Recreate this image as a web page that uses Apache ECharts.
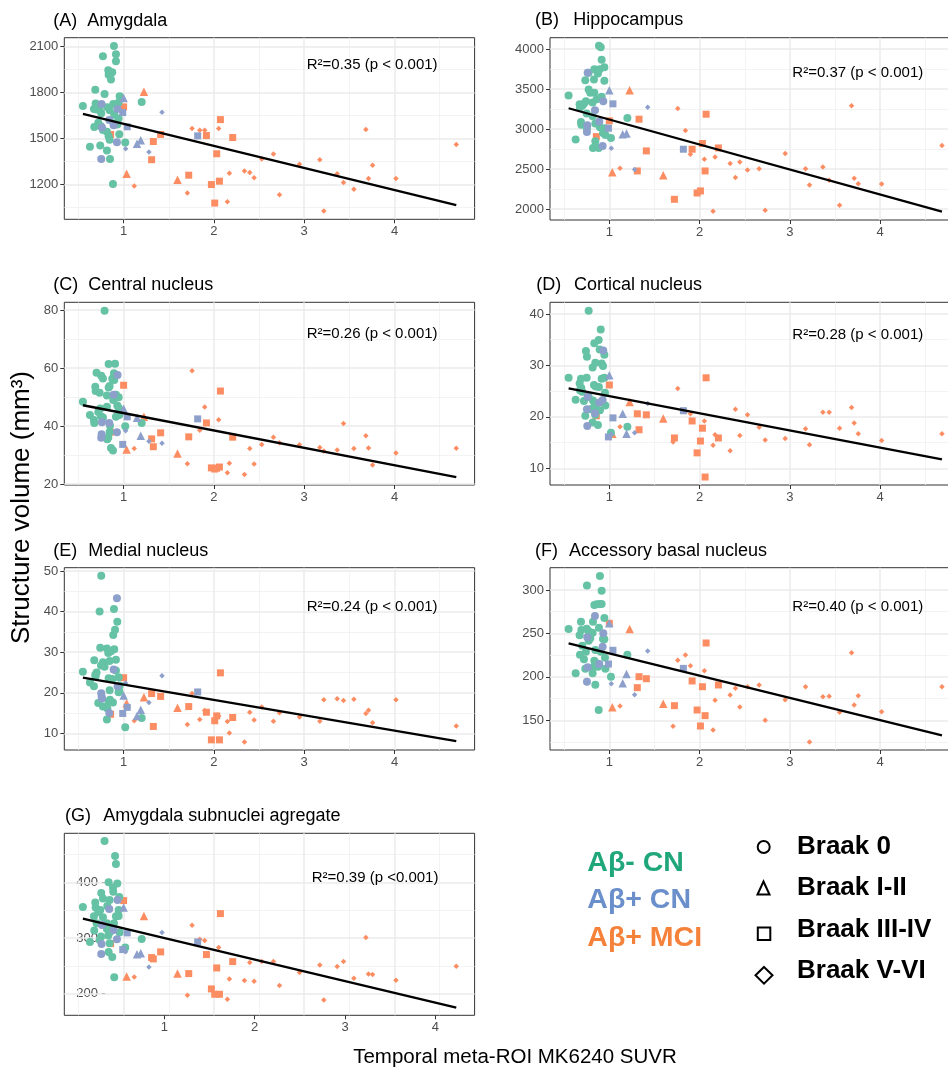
<!DOCTYPE html>
<html>
<head>
<meta charset="utf-8">
<script src="https://cdn.jsdelivr.net/npm/echarts@6/dist/echarts.min.js"></script>
<style>html,body{margin:0;padding:0;background:#fff}#c{width:948px;height:1070px}</style>
</head>
<body>
<div id="c"></div>
<script>
// ---------------- DATA ----------------
// Subjects: Temporal meta-ROI MK6240 SUVR (shared by all panels)
const suvr = [
  // Aβ- CN, Braak 0 (40)
  0.549, 0.627, 0.671, 0.675, 0.686, 0.69, 0.70, 0.719, 0.734, 0.741,
  0.749, 0.752, 0.771, 0.771, 0.789, 0.815, 0.815, 0.819, 0.83, 0.834,
  0.834, 0.845, 0.845, 0.849, 0.86, 0.874, 0.882, 0.885, 0.893, 0.896,
  0.905, 0.915, 0.915, 0.93, 0.945, 0.945, 0.952, 0.956, 1.018, 1.2,
  // Aβ+ CN: Braak 0 (7), I-II (3), III-IV (3), V-VI (3)
  0.752, 0.756, 0.76, 0.841, 0.889, 0.926, 0.933,
  1.0, 1.148, 1.19,
  0.99, 1.04, 1.82,
  1.022, 1.28, 1.425,
  // Aβ+ MCI: Braak I-II (3), III-IV (13), V-VI (25)
  1.033, 1.225, 1.597,
  0.856, 1.0, 1.31, 1.329, 1.41, 1.721, 1.917, 1.972, 2.009, 2.031, 2.061, 2.072, 2.208,
  1.118, 1.706, 1.758, 1.843, 1.898, 2.053, 2.149, 2.171, 2.338, 2.397, 2.445, 2.53, 2.659,
  2.726, 2.948, 3.173, 3.217, 3.365, 3.435, 3.55, 3.683, 3.712, 3.757, 4.016, 4.684
];
// cohort: N = Aβ- CN, P = Aβ+ CN, M = Aβ+ MCI
const cohort = ('NNNNNNNNNNNNNNNNNNNNNNNNNNNNNNNNNNNNNNNN' +
                'PPPPPPPPPPPPPPPP' +
                'MMMMMMMMMMMMMMMMMMMMMMMMMMMMMMMMMMMMMMMMM').split('');
// Braak stage: 0 = 0, 1 = I-II, 2 = III-IV, 3 = V-VI
const braak = ('0000000000000000000000000000000000000000' +
               '0000000' + '111' + '222' + '333' +
               '111' + '2222222222222' + '3333333333333333333333333').split('');

const amygdala = [
  1713, 1447, 1694, 1575, 1819, 1730, 1690, 1603, 1687, 1455,
  1580, 1665, 2038, 1557, 1791, 1544, 1423, 1704, 1947, 1917,
  1516, 1685, 1492, 1367, 1886, 1934, 1204, 1726, 2105, 1655,
  1600, 2051, 2005, 1592, 1735, 1631, 1529, 1776, 1475, 1739,
  1367, 1726, 1572, 1622, 1587, 1477, 1694,
  1765, 1466, 1490,
  1670, 1577, 1518,
  1434, 1412, 1672,
  1271, 1806, 1232,
  1527, 1707, 1362, 1481, 1527, 1261, 1520, 1200, 1079, 1401, 1222, 1624, 1507,
  1191, 1144, 1566, 1555, 1555, 1566, 1087, 1274, 1289, 1278, 1245, 1367, 1399,
  1133, 1332, 1362, 1027, 1271, 1213, 1170, 1559, 1239, 1326, 1239, 1462
];
const hippocampus = [
  3420, 2869, 3312, 3270, 3090, 3053, 3291, 3316, 3612, 3349,
  3195, 3007, 3704, 3495, 3454, 3161, 3332, 2764, 3621, 3454,
  3750, 2848, 3069, 2777, 3374, 3696, 2764, 4043, 3750, 3023,
  4026, 3867, 3404, 2952, 3775, 3604, 3011, 2927, 2890, 3140,
  2965, 3048, 3704, 3236, 3094, 2789, 3349,
  3487, 2936, 2944,
  3011, 3316, 2748,
  2760, 2493, 3274,
  2459, 3487, 2422,
  2906, 3103, 2476, 3124, 2727, 2121, 2748, 2200, 2226, 2819, 2476, 3186, 2764,
  2510, 2125, 3257, 2982, 2685, 2622, 1971, 2652, 2568, 2393, 2589, 2489, 2505,
  1983, 2693, 2505, 2301, 2526, 2360, 2046, 3291, 2384, 2317, 2313, 2794
];
const centralNucleus = [
  48.4, 43.8, 42.1, 41.1, 53.6, 52.1, 58.4, 44.9, 51.5, 46.1,
  43.4, 57.4, 56.4, 43.0, 79.8, 46.7, 50.6, 35.5, 36.1, 61.4,
  53.3, 38.0, 53.8, 40.1, 32.5, 56.3, 31.6, 49.0, 58.2, 55.9,
  61.5, 50.8, 43.2, 47.1, 46.3, 50.0, 43.8, 45.4, 40.0, 41.1,
  36.0, 37.2, 41.3, 41.1, 50.8, 37.9, 57.6,
  46.0, 42.9, 36.7,
  33.7, 43.2, 42.5,
  38.4, 34.8, 34.1,
  31.9, 43.2, 30.6,
  37.9, 54.1, 35.6, 32.9, 37.7, 36.3, 41.1, 25.6, 25.2, 25.5, 25.9, 52.1, 36.2,
  32.3, 27.0, 59.1, 38.6, 46.6, 42.2, 23.9, 27.2, 23.3, 32.3, 26.9, 33.7, 36.2,
  34.3, 33.6, 32.6, 31.4, 31.8, 40.9, 32.3, 36.7, 32.5, 26.6, 30.7, 32.4
];
const corticalNucleus = [
  27.6, 23.35, 26.5, 25.2, 27.4, 25.6, 24.9, 23.1, 20.2, 32.8,
  27.6, 31.7, 40.65, 23.9, 21.5, 29.6, 18.9, 23.2, 26.2, 34.3,
  22.0, 20.4, 30.5, 25.9, 22.6, 18.4, 34.95, 25.8, 33.1, 21.3,
  37.0, 27.4, 30.4, 29.9, 27.6, 32.1, 24.7, 22.2, 16.9, 18.1,
  21.5, 18.2, 23.9, 20.7, 22.8, 23.3, 32.9,
  28.1, 20.6, 16.7,
  16.1, 19.8, 21.2,
  16.6, 16.9, 22.6,
  16.7, 22.9, 19.7,
  20.2, 26.2, 20.6, 17.5, 20.4, 15.9, 19.2, 13.0, 15.3, 17.8, 8.3, 27.6, 15.9,
  18.1, 15.1, 25.5, 21.0, 20.6, 19.2, 14.5, 16.5, 13.4, 21.5, 16.4, 20.4, 18.0,
  15.5, 15.8, 17.7, 14.6, 20.9, 20.9, 17.8, 21.8, 18.8, 16.7, 15.4, 16.7
];
const medialNucleus = [
  25.2, 22.5, 21.6, 28.0, 24.4, 24.0, 25.0, 17.5, 40.0, 31.1,
  26.7, 48.8, 27.5, 16.6, 26.4, 13.4, 30.9, 16.2, 29.8, 17.9,
  23.6, 27.8, 20.6, 18.3, 30.2, 23.4, 17.6, 34.2, 40.6, 30.7,
  35.5, 25.5, 28.1, 37.5, 20.1, 23.8, 20.4, 21.8, 11.5, 13.8,
  19.9, 19.1, 18.6, 15.0, 25.7, 43.3, 21.6,
  19.3, 14.3, 15.8,
  14.9, 16.4, 20.2,
  22.4, 17.6, 24.2,
  17.4, 18.9, 16.3,
  14.7, 23.7, 19.8, 11.7, 19.1, 16.6, 15.2, 8.4, 13.1, 14.3, 8.4, 24.9, 13.9,
  13.1, 12.2, 19.8, 13.4, 15.6, 14.3, 12.9, 10.1, 7.9, 15.2, 13.3, 16.5, 13.0,
  15.1, 14.0, 13.0, 18.3, 18.5, 18.1, 18.4, 14.9, 15.7, 12.6, 18.3, 11.8
];
const accessoryBasal = [
  255.1, 204.1, 247.8, 225.6, 263.5, 254.0, 235.9, 220.2, 209.5, 229.0,
  255.5, 305.0, 252.4, 241.7, 244.4, 250.9, 204.1, 263.5, 211.8, 282.7,
  218.7, 231.0, 191.0, 216.4, 283.5, 211.8, 161.9, 256.6, 283.9, 316.1,
  229.0, 299.2, 283.9, 243.6, 267.8, 243.2, 222.1, 209.5, 200.3, 225.6,
  194.5, 245.5, 211.0, 270.0, 214.8, 234.8, 250.1,
  261.6, 192.6, 203.3,
  214.8, 230.6, 209.8,
  192.2, 179.5, 229.8,
  165.0, 255.1, 169.2,
  215.0, 261.6, 187.6, 200.2, 197.9, 166.9, 195.3, 161.9, 143.5, 188.7, 155.4, 239.0, 190.7,
  166.5, 143.1, 219.0, 225.2, 212.9, 207.2, 138.9, 173.0, 179.2, 186.8, 165.3, 188.7, 190.7,
  150.0, 173.8, 188.7, 125.1, 177.2, 177.6, 159.2, 227.9, 167.6, 178.4, 160.0, 188.7
];
const subnucleiAggregate = [
  355.7, 292.8, 338.9, 313.2, 363.5, 354.5, 326.3, 346.7, 296.4, 350.3,
  302.4, 380.8, 370.7, 337.1, 474.3, 326.3, 316.2, 357.5, 304.2, 274.9,
  400.0, 368.3, 290.4, 310.8, 320.4, 265.9, 390.4, 383.2, 326.3, 229.3,
  447.3, 338.9, 432.9, 397.6, 350.3, 339.5, 373.7, 309.6, 282.6, 298.2,
  271.3, 289.2, 323.4, 352.1, 314.4, 297.6, 368.3,
  354.5, 270.7, 272.5,
  279.0, 309.0, 292.8,
  275.4, 247.9, 309.6,
  230.5, 339.5, 235.9,
  289.8, 367.1, 264.7, 262.3, 274.9, 235.9, 270.1, 208.4, 198.8, 246.1, 198.8, 343.7, 257.5,
  229.9, 197.0, 322.8, 297.6, 295.2, 282.6, 189.8, 226.3, 223.4, 255.7, 222.2, 257.5, 257.5,
  214.4, 237.7, 251.5, 188.6, 248.5, 257.5, 227.5, 300.6, 235.3, 234.1, 224.0, 249.1
];

// Regression lines: endpoints at x = fitX
const fitX = [0.549, 4.684];
const fitStartY = [1661, 3261, 47.2, 25.55, 23.7, 238.6, 334.7];
const fitEndY = [1066, 1967, 22.4, 11.75, 8.1, 132.7, 174.8];

const panelTags = ['(A)', '(B)', '(C)', '(D)', '(E)', '(F)', '(G)'];
const panelNames = ['Amygdala', 'Hippocampus', 'Central nucleus', 'Cortical nucleus',
  'Medial nucleus', 'Accessory basal nucleus', 'Amygdala subnuclei agregate'];
const r2Labels = ['R²=0.35 (p < 0.001)', 'R²=0.37 (p < 0.001)', 'R²=0.26 (p < 0.001)',
  'R²=0.28 (p < 0.001)', 'R²=0.24 (p < 0.001)', 'R²=0.40 (p < 0.001)', 'R²=0.39 (p <0.001)'];

const xRange = [0.343, 4.887];
const xTicks = [1, 2, 3, 4];
const xMinor = [0.5, 1.5, 2.5, 3.5, 4.5];
const gXRange = [-0.109, 4.435];   // shifted tick labels of panel G
const yRanges = [[973, 2159], [1862, 4144], [19.7, 82.7], [6.75, 42.28], [5.9, 50.8], [115.9, 325.6], [161, 488]];
const yTicks = [[1200, 1500, 1800, 2100], [2000, 2500, 3000, 3500, 4000], [20, 40, 60, 80],
  [10, 20, 30, 40], [10, 20, 30, 40, 50], [150, 200, 250, 300], [200, 300, 400]];
const yMinor = [[1050, 1350, 1650, 1950], [2250, 2750, 3250, 3750], [30, 50, 70],
  [15, 25, 35], [15, 25, 35, 45], [125, 175, 225, 275], [250, 350, 450]];

const cohortLabels = ['Aβ- CN', 'Aβ+ CN', 'Aβ+ MCI'];
const braakLabels = ['Braak 0', 'Braak I-II', 'Braak III-IV', 'Braak V-VI'];
const xTitle = 'Temporal meta-ROI MK6240 SUVR';
const yTitle = 'Structure volume (mm³)';

// ---------------- LAYOUT / STYLE ----------------
const FONT = '"Liberation Sans", Arial, Helvetica, sans-serif';
const panels = [amygdala, hippocampus, centralNucleus, corticalNucleus, medialNucleus, accessoryBasal, subnucleiAggregate];
const boxes = [
  [64.3, 37.7, 410.3, 181.6], [550, 37.7, 410.3, 182.3],
  [64.3, 302.3, 410.3, 182.7], [550, 302.3, 410.3, 182.7],
  [64.3, 567.7, 410.3, 182.3], [550, 567.7, 410.3, 182.3],
  [64.3, 833.3, 410.3, 182]
];
const tagX = [53.3, 535, 53.3, 536.3, 53.3, 535, 65];
const nameX = [87.3, 573.3, 88.3, 574, 88.3, 569, 103.3];
const titleY = [20.7, 20, 285, 285, 550.7, 550.7, 815.7];
const r2X = [306.7, 792.3, 306.7, 792.3, 306.7, 792.3, 311.7];
const r2Y = [65, 72.7, 334, 335, 607.3, 607.3, 877.7];

const colorOf = { N: '#66C2A5', P: '#8DA0CB', M: '#FC8D62' };
const symbolOf = { '0': 'circle', '1': 'triangle', '2': 'rect', '3': 'diamond' };
const sizeOf = { '0': 8, '1': 8.5, '2': 7, '3': 5.5 };
const drawOrder = [['M', '3'], ['M', '2'], ['M', '1'], ['N', '0'], ['P', '0'], ['P', '1'], ['P', '2'], ['P', '3']];

const grids = [], xAxes = [], yAxes = [], series = [], graphics = [];
const plain = v => String(v);

boxes.forEach((b, i) => {
  grids.push({ left: b[0], top: b[1], width: b[2], height: b[3], show: true,
    borderColor: '#333333', borderWidth: 1, backgroundColor: 'rgba(0,0,0,0)',
    containLabel: false, outerBoundsMode: 'none' });
  const isG = i === 6;
  xAxes.push({ gridIndex: i, type: 'value', min: xRange[0], max: xRange[1], position: 'bottom',
    axisLine: { show: false }, splitLine: { show: false },
    axisTick: { show: !isG, customValues: xTicks, length: 4, lineStyle: { color: '#333333', width: 1 } },
    axisLabel: { show: !isG, customValues: xTicks, formatter: plain, color: '#4D4D4D', fontSize: 13, fontFamily: FONT, margin: 6 } });
  yAxes.push({ gridIndex: i, type: 'value', min: yRanges[i][0], max: yRanges[i][1],
    axisLine: { show: false }, splitLine: { show: false },
    axisTick: { show: !isG, customValues: yTicks[i], length: 4, lineStyle: { color: '#333333', width: 1 } },
    axisLabel: isG ? {
        inside: true, customValues: yTicks[i], margin: 12,
        formatter: v => '{n|' + v + '} {d|-}',
        rich: { n: { color: '#4D4D4D', fontSize: 13, fontFamily: FONT }, d: { color: '#222', fontSize: 13, fontFamily: FONT } }
      } : { customValues: yTicks[i], formatter: plain, color: '#4D4D4D', fontSize: 13, fontFamily: FONT, margin: 6 } });

  // gridlines (major + minor) on the panel's own scales
  const gl = [];
  xMinor.forEach(v => gl.push({ xAxis: v, lineStyle: { color: '#F0F0F0', width: 0.8, type: 'solid' } }));
  yMinor[i].forEach(v => gl.push({ yAxis: v, lineStyle: { color: '#F0F0F0', width: 0.8, type: 'solid' } }));
  xTicks.forEach(v => gl.push({ xAxis: v, lineStyle: { color: '#EBEBEB', width: 1.5, type: 'solid' } }));
  yTicks[i].forEach(v => gl.push({ yAxis: v, lineStyle: { color: '#EBEBEB', width: 1.5, type: 'solid' } }));
  series.push({ type: 'line', xAxisIndex: i, yAxisIndex: i, data: [], z: 1, silent: true,
    markLine: { silent: true, symbol: ['none', 'none'], label: { show: false }, animation: false, data: gl } });

  // points
  const vals = panels[i];
  drawOrder.forEach(([c, s]) => {
    const pts = [];
    suvr.forEach((x, k) => { if (cohort[k] === c && braak[k] === s) pts.push([x, vals[k]]); });
    series.push({ type: 'scatter', xAxisIndex: i, yAxisIndex: i, data: pts, z: 10,
      symbol: symbolOf[s], symbolSize: sizeOf[s],
      itemStyle: { color: colorOf[c], opacity: 1 } });
  });

  // regression line
  series.push({ type: 'line', xAxisIndex: i, yAxisIndex: i, z: 20, showSymbol: false, symbol: 'none',
    data: [[fitX[0], fitStartY[i]], [fitX[1], fitEndY[i]]],
    lineStyle: { color: '#000000', width: 2.3 } });

  // titles and R² labels
  graphics.push({ type: 'text', x: tagX[i], y: titleY[i],
    style: { text: panelTags[i], fill: '#000', font: '18px ' + FONT, align: 'left', verticalAlign: 'middle', textAlign: 'left', textVerticalAlign: 'middle' } });
  graphics.push({ type: 'text', x: nameX[i], y: titleY[i],
    style: { text: panelNames[i], fill: '#000', font: '18px ' + FONT, align: 'left', verticalAlign: 'middle', textAlign: 'left', textVerticalAlign: 'middle' } });
  graphics.push({ type: 'text', x: r2X[i], y: r2Y[i], z: 30,
    style: { text: r2Labels[i], fill: '#000', font: '15px ' + FONT, align: 'left', verticalAlign: 'middle', textAlign: 'left', textVerticalAlign: 'middle' } });
});

// Panel G: shifted tick labels
xAxes.push({ gridIndex: 6, type: 'value', min: gXRange[0], max: gXRange[1], position: 'bottom',
  axisLine: { show: false }, splitLine: { show: false },
  axisTick: { show: true, customValues: xTicks, length: 4, lineStyle: { color: '#333333', width: 1 } },
  axisLabel: { customValues: xTicks, formatter: plain, color: '#4D4D4D', fontSize: 13, fontFamily: FONT, margin: 6 } });

// Axis titles
graphics.push({ type: 'text', x: 22, y: 507.5, rotation: Math.PI / 2,
  style: { text: yTitle, fill: '#000', font: '26px ' + FONT, align: 'center', verticalAlign: 'middle', textAlign: 'center', textVerticalAlign: 'middle' } });
graphics.push({ type: 'text', x: 515, y: 1057.5,
  style: { text: xTitle, fill: '#000', font: '20.5px ' + FONT, align: 'center', verticalAlign: 'middle', textAlign: 'center', textVerticalAlign: 'middle' } });

// Legends
const cohortColors = ['#1FA67A', '#6A8FCB', '#F5823A'];
const cohortY = [863.3, 900, 938.3];
cohortLabels.forEach((t, j) => graphics.push({ type: 'text', x: 587.3, y: cohortY[j],
  style: { text: t, fill: cohortColors[j], font: 'bold 28.5px ' + FONT, align: 'left', verticalAlign: 'middle', textAlign: 'left', textVerticalAlign: 'middle' } }));
const braakY = [846.7, 888, 930, 971.3];
braakLabels.forEach((t, j) => graphics.push({ type: 'text', x: 797, y: braakY[j],
  style: { text: t, fill: '#000', font: 'bold 26px ' + FONT, align: 'left', verticalAlign: 'middle', textAlign: 'left', textVerticalAlign: 'middle' } }));
const ls = { fill: 'none', stroke: '#000', lineWidth: 2 };
graphics.push({ type: 'circle', shape: { cx: 763.7, cy: 847, r: 6 }, style: ls });
graphics.push({ type: 'polygon', shape: { points: [[763.5, 881.5], [757.5, 894.5], [769.5, 894.5]] }, style: ls });
graphics.push({ type: 'rect', shape: { x: 757.8, y: 927.5, width: 12.5, height: 12.5 }, style: ls });
graphics.push({ type: 'polygon', shape: { points: [[764, 967], [772.5, 975.3], [764, 983.6], [755.5, 975.3]] }, style: ls });

const chart = echarts.init(document.getElementById('c'), null, { renderer: 'canvas', width: 948, height: 1070 });
chart.setOption({
  animation: false,
  backgroundColor: '#ffffff',
  grid: grids, xAxis: xAxes, yAxis: yAxes, series: series, graphic: graphics
});
</script>
</body>
</html>
